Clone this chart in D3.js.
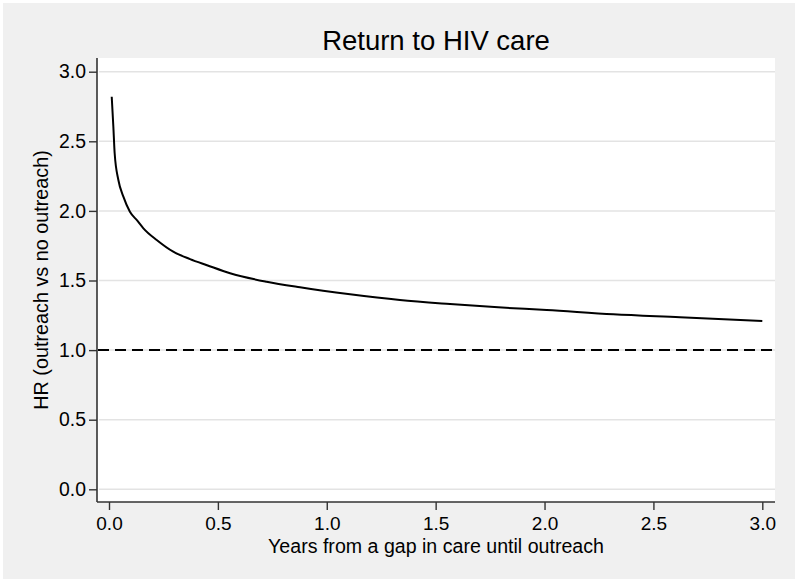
<!DOCTYPE html>
<html>
<head>
<meta charset="utf-8">
<script src="https://cdn.jsdelivr.net/npm/d3@7"></script>
<style>
  html, body { margin: 0; padding: 0; background: #ffffff; }
  svg { display: block; }
  text { font-family: "Liberation Sans", Arial, Helvetica, sans-serif; fill: #000; }
</style>
</head>
<body>
<svg id="chart" width="799" height="583"></svg>
<script>
// ---- data ----
const years = [0.0125, 0.02, 0.026, 0.043, 0.066, 0.096, 0.13, 0.158, 0.219, 0.295, 0.372, 0.45, 0.556, 0.724, 0.877, 1.107, 1.336, 1.566, 1.787, 2.01, 2.316, 2.622, 3.0];
const hr    = [2.82, 2.605, 2.414, 2.222, 2.102, 1.994, 1.93, 1.875, 1.791, 1.707, 1.654, 1.61, 1.552, 1.491, 1.451, 1.401, 1.360, 1.331, 1.307, 1.288, 1.257, 1.236, 1.209];
const referenceHR = 1.0;
const xTicks = [0, 0.5, 1, 1.5, 2, 2.5, 3];
const yTicks = [0, 0.5, 1, 1.5, 2, 2.5, 3];
const titleText = "Return to HIV care";
const xTitle = "Years from a gap in care until outreach";
const yTitle = "HR (outreach vs no outreach)";

// ---- layout ----
const W = 799, H = 583;
const plot = { left: 97, right: 775, top: 58, bottom: 502 };

const svg = d3.select("#chart");

// outer background
svg.append("rect").attr("x", 0).attr("y", 0).attr("width", W).attr("height", H).attr("fill", "#ffffff");
svg.append("rect").attr("x", 3).attr("y", 3).attr("width", W - 7).attr("height", H - 7).attr("fill", "#f0f0f0");
// plot region
svg.append("rect")
  .attr("x", plot.left).attr("y", plot.top)
  .attr("width", plot.right - plot.left).attr("height", plot.bottom - plot.top)
  .attr("fill", "#ffffff");

const x = d3.scaleLinear().domain([0, 3]).range([109, 762.3]);
const y = d3.scaleLinear().domain([0, 3]).range([489.3, 71.7]);

// gridlines
svg.append("g").selectAll("line").data(yTicks).join("line")
  .attr("x1", plot.left + 2).attr("x2", plot.right)
  .attr("y1", d => y(d)).attr("y2", d => y(d))
  .attr("stroke", "#e3e3e3").attr("stroke-width", 1.5);

// y axis
const yAxis = d3.axisLeft(y).tickValues(yTicks).tickFormat(d3.format(".1f")).tickSize(8).tickPadding(3);
const gy = svg.append("g").attr("transform", `translate(${plot.left},0)`).call(yAxis);
gy.select(".domain").attr("d", `M0,${plot.top}V${plot.bottom}`).attr("stroke", "#333").attr("stroke-width", 1.6);
gy.selectAll(".tick line").attr("stroke", "#333").attr("stroke-width", 1.4);
gy.selectAll(".tick text").attr("font-size", 19.4).attr("font-family", "Liberation Sans, Arial, sans-serif").attr("fill", "#000");

// x axis
const xAxis = d3.axisBottom(x).tickValues(xTicks).tickFormat(d3.format(".1f")).tickSize(8).tickPadding(7);
const gx = svg.append("g").attr("transform", `translate(0,${plot.bottom})`).call(xAxis);
gx.select(".domain").attr("d", `M${plot.left},0H${plot.right}`).attr("stroke", "#333").attr("stroke-width", 1.6);
gx.selectAll(".tick line").attr("stroke", "#333").attr("stroke-width", 1.4);
gx.selectAll(".tick text").attr("font-size", 19).attr("font-family", "Liberation Sans, Arial, sans-serif").attr("fill", "#000");

// reference dashed line
svg.append("line")
  .attr("x1", plot.left + 1).attr("x2", plot.right)
  .attr("y1", y(referenceHR)).attr("y2", y(referenceHR))
  .attr("stroke", "#000").attr("stroke-width", 2).attr("stroke-dasharray", "11,6");

// curve
const pts = years.map((t, i) => [t, hr[i]]);
const line = d3.line().x(d => x(d[0])).y(d => y(d[1])).curve(d3.curveMonotoneX);
svg.append("path").datum(pts)
  .attr("d", line).attr("fill", "none")
  .attr("stroke", "#000").attr("stroke-width", 2);

// titles
svg.append("text").attr("x", (plot.left + plot.right) / 2).attr("y", 50)
  .attr("text-anchor", "middle").attr("font-size", 27.5).text(titleText);
svg.append("text").attr("x", (plot.left + plot.right) / 2).attr("y", 553)
  .attr("text-anchor", "middle").attr("font-size", 19.6).text(xTitle);
svg.append("text")
  .attr("transform", `translate(48,${(plot.top + plot.bottom) / 2}) rotate(-90)`)
  .attr("text-anchor", "middle").attr("font-size", 19.8).text(yTitle);
</script>
</body>
</html>
